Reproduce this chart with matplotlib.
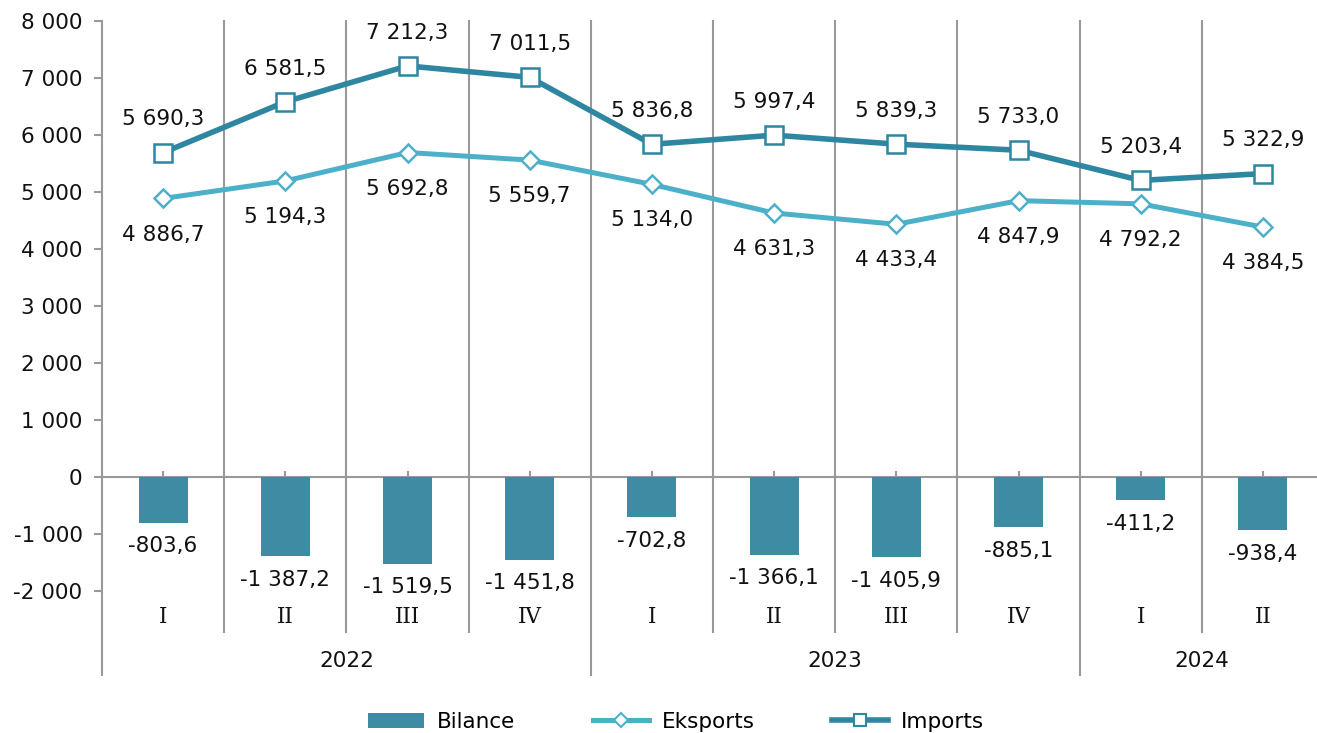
import matplotlib
matplotlib.use("Agg")
import matplotlib.pyplot as plt
from matplotlib.lines import Line2D
from matplotlib.patches import Patch

quarters = ["I", "II", "III", "IV", "I", "II", "III", "IV", "I", "II"]
years = ["2022", "2023", "2024"]
year_counts = [4, 4, 2]
imports = [5690.3, 6581.5, 7212.3, 7011.5, 5836.8, 5997.4, 5839.3, 5733.0, 5203.4, 5322.9]
exports = [4886.7, 5194.3, 5692.8, 5559.7, 5134.0, 4631.3, 4433.4, 4847.9, 4792.2, 4384.5]
balance = [-803.6, -1387.2, -1519.5, -1451.8, -702.8, -1366.1, -1405.9, -885.1, -411.2, -938.4]
yticks = [-2000, -1000, 0, 1000, 2000, 3000, 4000, 5000, 6000, 7000, 8000]

BAR_C = "#3d8ca4"
IMP_C = "#2f86a0"
EXP_C = "#4db0c9"
GRID_C = "#999999"
FS = 15.5

def fmt(v, dec=1):
    s = f"{abs(v):,.{dec}f}".replace(",", " ").replace(".", ",")
    return ("-" if v < 0 else "") + s

plt.rcParams['font.family'] = ['DejaVu Sans']
fig = plt.figure(figsize=(13.17, 7.33), dpi=100)
W, H = 1317, 733
ax = fig.add_axes([102 / W, 1 - 591 / H, (1324 - 102) / W, (591 - 21) / H])
n = len(quarters)
x = list(range(n))
ax.set_xlim(-0.5, n - 0.5)
ax.set_ylim(-2000, 8000)

for s in ax.spines.values():
    s.set_visible(False)

# separators
ybot_q = -2000 - 41 / 57 * 1000
ybot_y = -2000 - 84 / 57 * 1000
bounds = []
c = 0
for cnt in year_counts[:-1]:
    c += cnt
    bounds.append(c - 0.5)
for i in range(1, n):
    b = i - 0.5
    lo = ybot_y if b in bounds else ybot_q
    ax.plot([b, b], [8000, lo], color=GRID_C, lw=1.5, clip_on=False, zorder=0)
# y axis line
ax.plot([-0.5, -0.5], [8000, ybot_y], color=GRID_C, lw=1.5, clip_on=False, zorder=0)
# zero line
ax.axhline(0, color=GRID_C, lw=1.5, zorder=1)
for xi in x:
    ax.plot([xi, xi], [0, 80], color=GRID_C, lw=1.5, zorder=1)

ax.bar(x, balance, width=0.4, color=BAR_C, zorder=2)
ax.plot(x, exports, color=EXP_C, lw=3.6, marker="D", ms=9.5, mfc="white",
        mec=EXP_C, mew=1.8, zorder=3)
ax.plot(x, imports, color=IMP_C, lw=4.0, marker="s", ms=13.5, mfc="white",
        mec=IMP_C, mew=1.8, zorder=4)

for xi, v in zip(x, imports):
    ax.annotate(fmt(v), (xi, v), xytext=(0, 24), textcoords="offset points",
                ha="center", va="center", fontsize=FS, color="#111111")
for xi, v in zip(x, exports):
    ax.annotate(fmt(v), (xi, v), xytext=(0, -26), textcoords="offset points",
                ha="center", va="center", fontsize=FS, color="#111111")
for xi, v in zip(x, balance):
    ax.annotate(fmt(v), (xi, v), xytext=(0, -17), textcoords="offset points",
                ha="center", va="center", fontsize=FS, color="#111111")

ax.set_yticks(yticks)
ax.set_yticklabels([fmt(t, 0) for t in yticks], fontsize=FS, color="#111111")
ax.tick_params(axis="y", length=6, width=1.5, color=GRID_C, pad=8)
ax.set_xticks([])

yq = -2000 - 26 / 57 * 1000
yy = -2000 - 70 / 57 * 1000
for xi, q in zip(x, quarters):
    ax.text(xi, yq, q, ha="center", va="center", fontsize=FS, family="DejaVu Serif",
            color="#111111")
start = 0
for yr, cnt in zip(years, year_counts):
    ax.text(start + (cnt - 1) / 2, yy, yr, ha="center", va="center", fontsize=FS,
            color="#111111")
    start += cnt

handles = [
    Patch(facecolor=BAR_C, edgecolor="none"),
    Line2D([], [], color=EXP_C, lw=3.6, marker="D", ms=7, mfc="white", mec=EXP_C, mew=1.5),
    Line2D([], [], color=IMP_C, lw=4.0, marker="s", ms=9, mfc="white", mec=IMP_C, mew=1.5),
]
fig.legend(handles, ["Bilance", "Eksports", "Imports"], loc="center",
           bbox_to_anchor=(676 / W, 1 - 722 / H), ncol=3, frameon=False,
           fontsize=FS, columnspacing=3.6, handlelength=2.6, handletextpad=0.6)

fig.savefig("out.png", dpi=100)
